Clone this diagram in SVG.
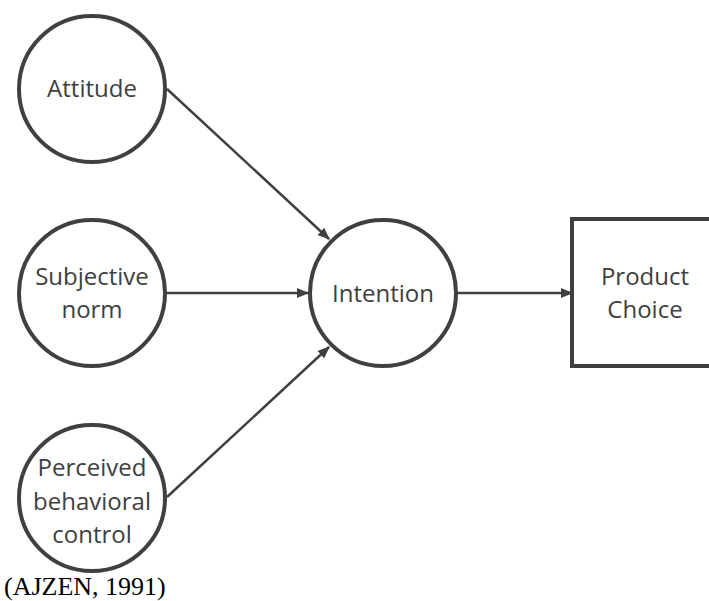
<svg xmlns="http://www.w3.org/2000/svg" width="709" height="601" viewBox="0 0 709 601">
<style>
.node{fill:#fff;stroke:#404040;stroke-width:4}
.lbl{font-family:"Open Sans","Liberation Sans",sans-serif;font-size:24px;fill:#404040;text-anchor:middle}
.edge{stroke:#404040;stroke-width:2.5;fill:none;marker-end:url(#ah)}
.cite{font-family:"Liberation Serif",serif;font-size:26px;fill:#000}
</style>
<defs>
<marker id="ah" viewBox="0 0 10 10" refX="9" refY="5" markerWidth="5" markerHeight="5" orient="auto" markerUnits="strokeWidth">
<path d="M0,1 L10,5 L0,9 z" fill="#404040"/>
</marker>
</defs>
<rect width="709" height="601" fill="#fff"/>
<g id="connectors">
<line class="edge" x1="167" y1="89" x2="329" y2="239"/>
<line class="edge" x1="167" y1="293" x2="308" y2="293"/>
<line class="edge" x1="167" y1="497" x2="329" y2="347"/>
<line class="edge" x1="457" y1="293" x2="572" y2="293"/>
</g>
<g id="attitude">
<circle class="node" cx="92" cy="89" r="73"/>
<text class="lbl" x="92" y="97">Attitude</text>
</g>
<g id="subjective-norm">
<circle class="node" cx="92" cy="293" r="73"/>
<text class="lbl" x="92" y="285">Subjective</text>
<text class="lbl" x="92" y="318">norm</text>
</g>
<g id="pbc">
<circle class="node" cx="92" cy="498" r="73"/>
<text class="lbl" x="92" y="476">Perceived</text>
<text class="lbl" x="92" y="510">behavioral</text>
<text class="lbl" x="92" y="543">control</text>
</g>
<g id="intention">
<circle class="node" cx="383" cy="293" r="73"/>
<text class="lbl" x="383" y="302">Intention</text>
</g>
<g id="product-choice">
<rect class="node" x="572" y="219" width="150" height="147" stroke-width="3"/>
<text class="lbl" x="645" y="285">Product</text>
<text class="lbl" x="645" y="318">Choice</text>
</g>
<text class="cite" x="4" y="595">(AJZEN, 1991)</text>
</svg>
